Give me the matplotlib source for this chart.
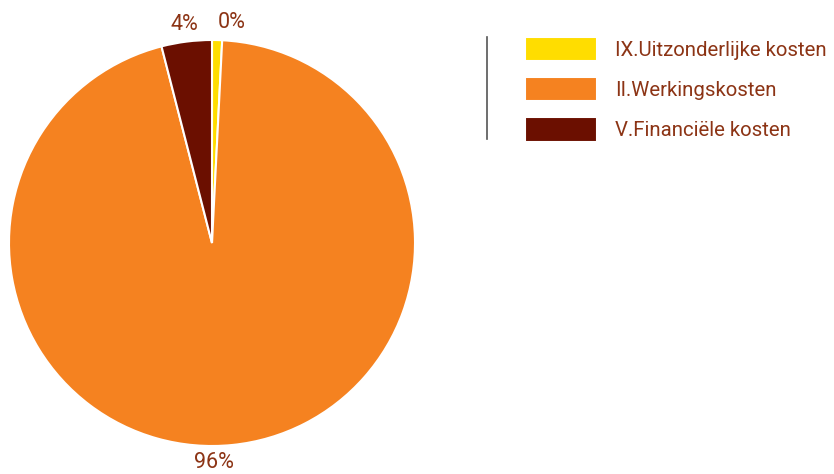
import matplotlib.pyplot as plt
from matplotlib.lines import Line2D

# data
categories = ["IX.Uitzonderlijke kosten", "II.Werkingskosten", "V.Financiële kosten"]
shares = [0.8, 95.2, 4.0]
pct_labels = ["0%", "96%", "4%"]
colors = ["#FFDD00", "#F58220", "#6B0F00"]
label_ha = ["left", "right", "center"]

TEXT_COLOR = "#8C3415"
FONT = ["Roboto", "DejaVu Sans"]

fig = plt.figure(figsize=(8.34, 4.74), dpi=100)
ax = fig.add_axes([9 / 834, 28 / 474, 406 / 834, 406 / 474])

wedges, texts = ax.pie(
    shares,
    colors=colors,
    startangle=90,
    counterclock=False,
    labels=pct_labels,
    labeldistance=1.085,
    wedgeprops=dict(edgecolor="white", linewidth=1.5),
    textprops=dict(color=TEXT_COLOR, fontsize=15.5, family=FONT),
)
for t, ha in zip(texts, label_ha):
    t.set_ha(ha)
    t.set_va("center")
ax.set_xlim(-1, 1)
ax.set_ylim(-1, 1)
ax.set_aspect("equal")

leg = fig.legend(
    wedges, categories,
    loc="upper left",
    bbox_to_anchor=(525 / 834, 1 - 37 / 474),
    frameon=False,
    borderpad=0, borderaxespad=0,
    handlelength=3.55, handleheight=1.45,
    handletextpad=0.85, labelspacing=0.78,
    prop=dict(family=FONT, size=14.7),
)
for t in leg.get_texts():
    t.set_color(TEXT_COLOR)

# thin separator left of the legend
fig.add_artist(Line2D([487 / 834, 487 / 834], [1 - 37 / 474, 1 - 139 / 474],
                      color="#555555", linewidth=1.2))

fig.savefig("out.png", dpi=100)
